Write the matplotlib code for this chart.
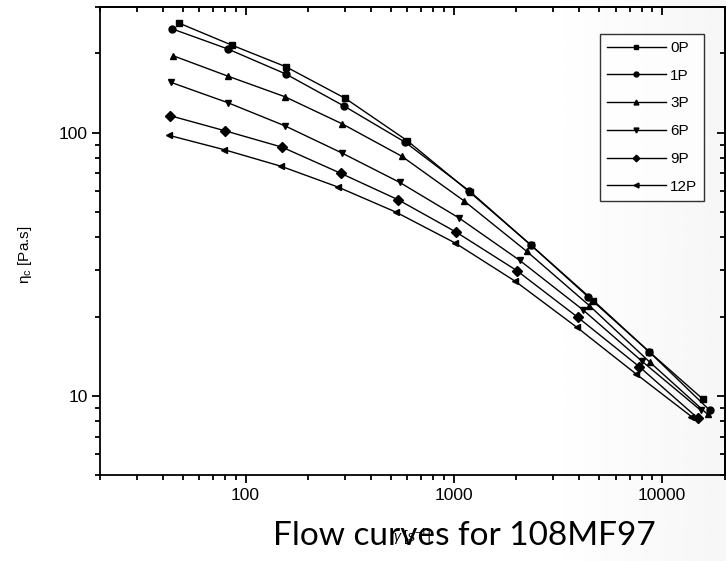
import numpy as np
import matplotlib
matplotlib.use("Agg")
import matplotlib.pyplot as plt
from matplotlib.ticker import LogLocator, NullFormatter, FixedLocator, FixedFormatter

plt.rcParams["font.family"] = ["Liberation Sans", "DejaVu Sans"]
plt.rcParams["mathtext.fontset"] = "custom"
plt.rcParams["mathtext.rm"] = "Liberation Sans"
plt.rcParams["mathtext.it"] = "Liberation Sans:italic"

# ---- data ----
labels = ["0P", "1P", "3P", "6P", "9P", "12P"]
markers = ["s", "o", "^", "v", "D", "<"]

x_0P = [47.7, 85.8, 156, 301, 600, 1197, 2356, 4690, 8690, 15780]
y_0P = [261, 215, 178, 135, 93.0, 59.3, 37.3, 23.0, 14.7, 9.7]

x_1P = [44.3, 82, 156, 298, 585, 1190, 2356, 4440, 8690, 17000]
y_1P = [248, 208, 167, 126, 91.9, 60.0, 37.3, 23.7, 14.7, 8.8]

x_3P = [44.8, 82, 154, 291, 563, 1119, 2242, 4488, 8770, 16600]
y_3P = [196, 164, 137, 108, 81.3, 55.1, 35.4, 22.0, 13.4, 8.5]

x_6P = [44, 82, 155, 290, 550, 1060, 2075, 4180, 8050, 15400]
y_6P = [155, 130, 106, 83.7, 64.7, 47.4, 32.7, 21.2, 13.5, 8.8]

x_9P = [43.3, 80, 150, 287, 540, 1031, 2009, 3936, 7790, 14930]
y_9P = [116, 101.5, 88, 70.0, 55.6, 41.8, 29.9, 19.9, 12.9, 8.2]

x_12P = [42.7, 79, 148, 278, 527, 1014, 1980, 3907, 7520, 13870]
y_12P = [97.7, 86.1, 74.5, 62.1, 49.9, 38.1, 27.2, 18.2, 12.1, 8.34]

xs = [x_0P, x_1P, x_3P, x_6P, x_9P, x_12P]
ys = [y_0P, y_1P, y_3P, y_6P, y_9P, y_12P]

x_ticks = [100, 1000, 10000]
x_ticklabels = ["100", "1000", "10000"]
y_ticks = [10, 100]
y_ticklabels = ["10", "100"]

title_text = "Flow curves for 108MF97"

# ---- figure ----
W, H = 726, 561
fig = plt.figure(figsize=(W / 100, H / 100), dpi=100)

# slide-like background gradient (very light gray toward the right)
bg = fig.add_axes([0, 0, 1, 1], zorder=-10)
xx = np.linspace(0, 1, 400)
shade = 1.0 - np.clip((xx - 0.75) / 0.25, 0, 1) * 0.035
g = np.tile(shade, (2, 1))
bg.imshow(g, cmap="gray", vmin=0, vmax=1, aspect="auto", extent=[0, 1, 0, 1])
bg.set_axis_off()

ax = fig.add_axes([100 / W, 1 - 475 / H, 624.5 / W, 468 / H])
ax.set_facecolor("none")

for x, y, m, lab in zip(xs, ys, markers, labels):
    ax.plot(x, y, color="black", lw=1.0, marker=m, ms=5.0 if m != "D" else 4.8,
            mfc="black", mec="black", label=lab)

ax.set_xscale("log")
ax.set_yscale("log")
ax.set_xlim(20, 20000)
ax.set_ylim(5, 300)

ax.xaxis.set_major_locator(FixedLocator(x_ticks))
ax.xaxis.set_major_formatter(FixedFormatter(x_ticklabels))
ax.yaxis.set_major_locator(FixedLocator(y_ticks))
ax.yaxis.set_major_formatter(FixedFormatter(y_ticklabels))
ax.xaxis.set_minor_locator(LogLocator(base=10, subs=np.arange(2, 10)))
ax.yaxis.set_minor_locator(LogLocator(base=10, subs=np.arange(2, 10)))
ax.xaxis.set_minor_formatter(NullFormatter())
ax.yaxis.set_minor_formatter(NullFormatter())

for s in ax.spines.values():
    s.set_linewidth(1.3)

ax.tick_params(axis="both", which="major", direction="out", length=6, width=1.3,
               labelsize=12.5, pad=3)
ax.tick_params(axis="both", which="minor", direction="out", length=3.5, width=1.3)
ax.tick_params(top=False, right=False, which="both")

# top/right ticks inward
ax2 = ax.secondary_xaxis("top")
ax2.xaxis.set_major_locator(FixedLocator(x_ticks))
ax2.xaxis.set_minor_locator(LogLocator(base=10, subs=np.arange(2, 10)))
ax2.xaxis.set_major_formatter(NullFormatter())
ax2.xaxis.set_minor_formatter(NullFormatter())
ax2.tick_params(which="major", direction="in", length=6, width=1.3)
ax2.tick_params(which="minor", direction="in", length=3.5, width=1.3)
ax2.spines["top"].set_linewidth(1.3)
ay2 = ax.secondary_yaxis("right")
ay2.yaxis.set_major_locator(FixedLocator(y_ticks))
ay2.yaxis.set_minor_locator(LogLocator(base=10, subs=np.arange(2, 10)))
ay2.yaxis.set_major_formatter(NullFormatter())
ay2.yaxis.set_minor_formatter(NullFormatter())
ay2.tick_params(which="major", direction="in", length=6, width=1.3)
ay2.tick_params(which="minor", direction="in", length=3.5, width=1.3)
ay2.spines["right"].set_linewidth(1.3)

ax.set_ylabel(r"η$_\mathregular{c}$ [Pa.s]", fontsize=11)
ax.yaxis.set_label_coords(-0.105, 0.47)

leg = ax.legend(loc="upper right", bbox_to_anchor=((704 - 100) / 624.5, (475 - 34) / 468),
                borderaxespad=0, frameon=True, fancybox=False, edgecolor="black",
                prop={"size": 11}, handlelength=3.9,
                markerscale=0.7, labelspacing=0.9, handletextpad=0.25, borderpad=0.45)
leg.get_frame().set_linewidth(1.0)
leg.get_frame().set_facecolor("white")

# x label (overlapping the slide title, as in the reference)
fig.text(412 / W, 1 - 537 / H, r"$\dot{\gamma}$ [s$^{-1}$]", fontsize=10,
         ha="center", va="center")
fig.text(464 / W, 1 - 536 / H, title_text, fontsize=24, family="Lato",
         ha="center", va="center", color="black")

fig.savefig("out.png", dpi=100)
